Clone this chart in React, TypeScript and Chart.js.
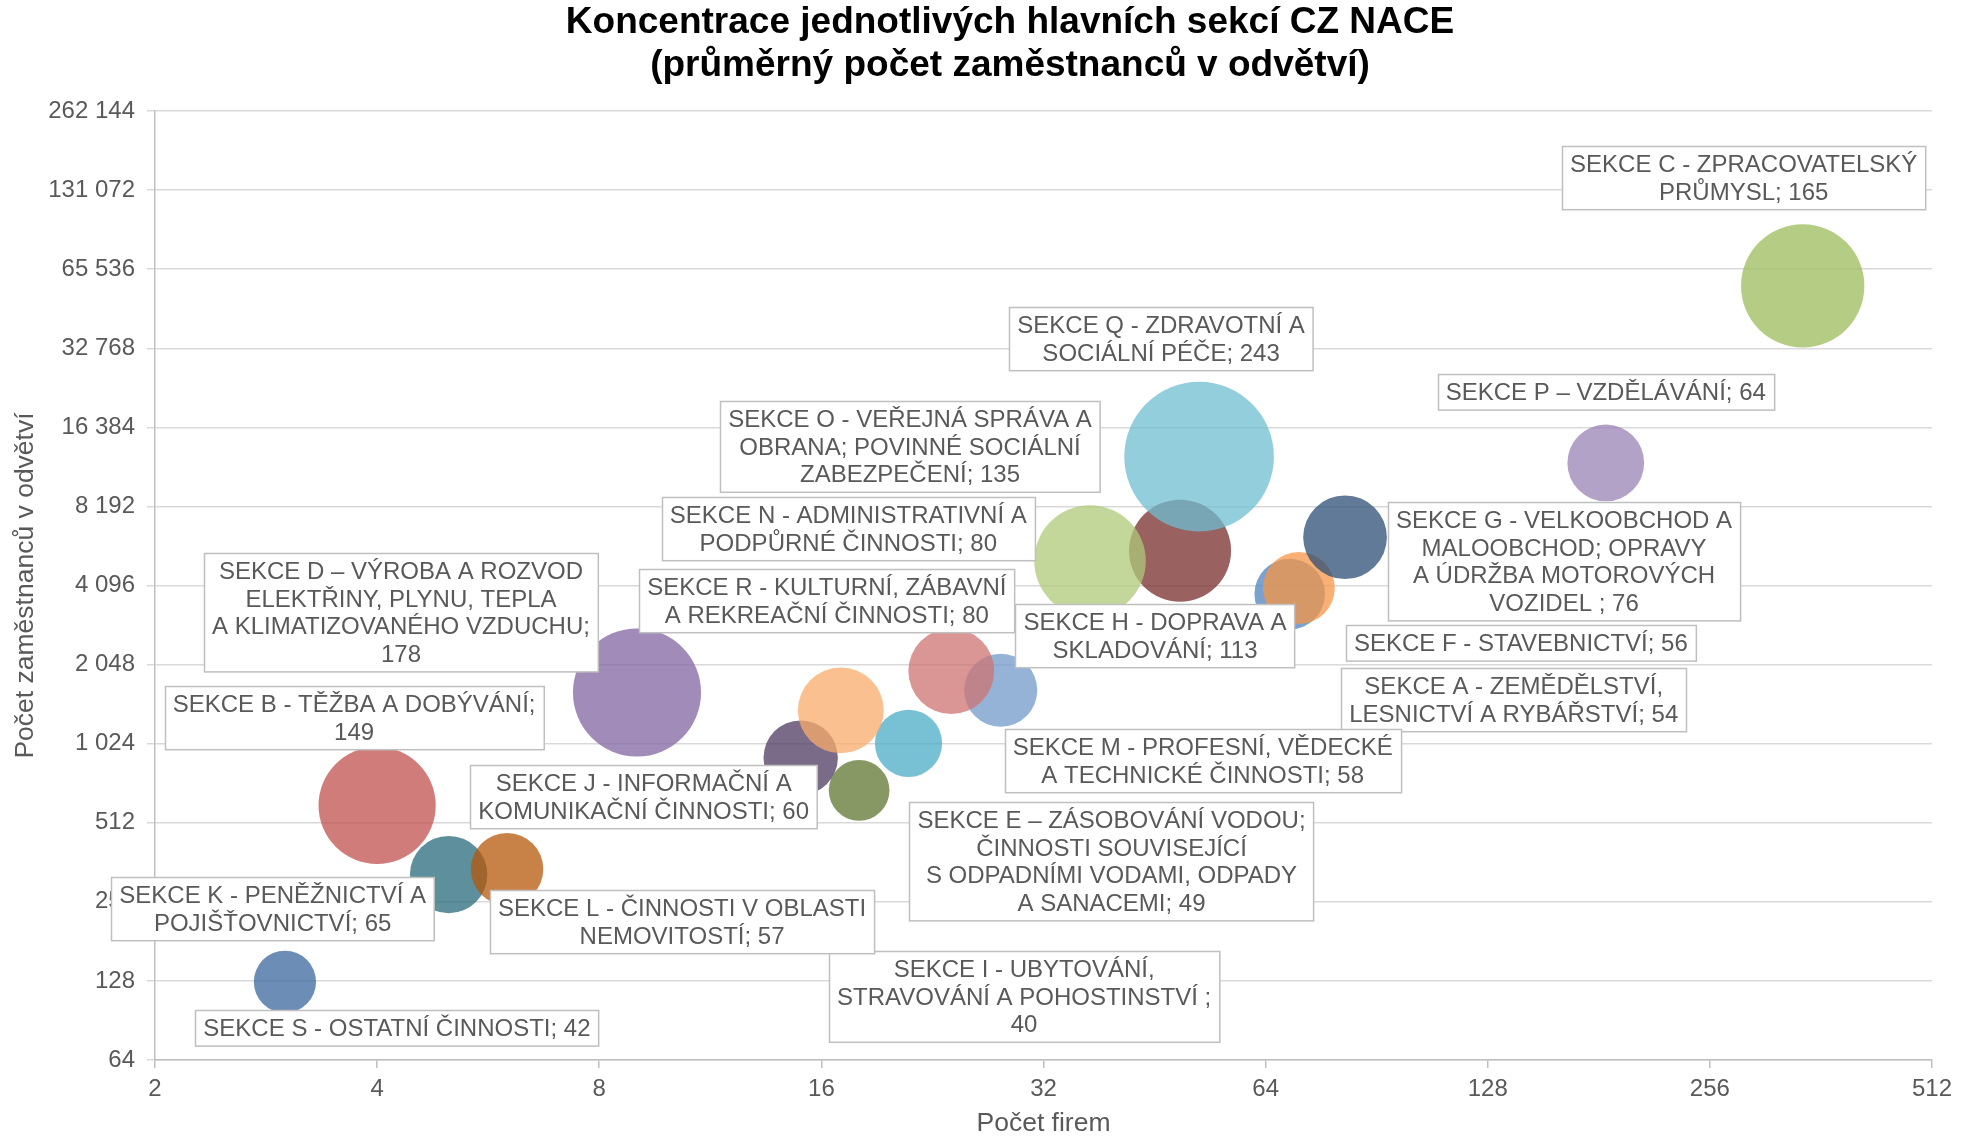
import React, { useEffect, useRef } from "react";
import { Chart, registerables } from "chart.js";

Chart.register(...registerables);

// ---------- DATA ----------
const sectionCodes = ["A", "B", "C", "D", "E", "F", "G", "H", "I", "J", "K", "L", "M", "N", "O", "P", "Q", "R", "S"];
// Počet firem (x)
const firmCounts = [69, 4, 342, 9, 21, 71, 82, 49, 18, 15, 5, 6, 28, 24, 37, 185, 52, 17, 3];
// Počet zaměstnanců v odvětví (y)
const employeeCounts = [3800, 596, 56600, 1603, 1027, 4007, 6252, 5557, 680, 906, 325, 341, 1636, 1935, 5077, 11990, 12670, 1371, 127];
// Průměrný počet zaměstnanců (bubble size)
const avgEmployees = [54, 149, 165, 178, 49, 56, 76, 113, 40, 60, 65, 57, 58, 80, 135, 64, 243, 80, 42];

const labelLines: string[][] = [
  ["SEKCE A - ZEMĚDĚLSTVÍ,", "LESNICTVÍ A RYBÁŘSTVÍ; 54"],
  ["SEKCE B - TĚŽBA A DOBÝVÁNÍ;", "149"],
  ["SEKCE C - ZPRACOVATELSKÝ", "PRŮMYSL; 165"],
  ["SEKCE D – VÝROBA A ROZVOD", "ELEKTŘINY, PLYNU, TEPLA", "A KLIMATIZOVANÉHO VZDUCHU;", "178"],
  ["SEKCE E – ZÁSOBOVÁNÍ VODOU;", "ČINNOSTI SOUVISEJÍCÍ", "S ODPADNÍMI VODAMI, ODPADY", "A SANACEMI; 49"],
  ["SEKCE F - STAVEBNICTVÍ; 56"],
  ["SEKCE G - VELKOOBCHOD A", "MALOOBCHOD; OPRAVY", "A ÚDRŽBA MOTOROVÝCH", "VOZIDEL ; 76"],
  ["SEKCE H - DOPRAVA A", "SKLADOVÁNÍ; 113"],
  ["SEKCE I - UBYTOVÁNÍ,", "STRAVOVÁNÍ A POHOSTINSTVÍ ;", "40"],
  ["SEKCE J - INFORMAČNÍ A", "KOMUNIKAČNÍ ČINNOSTI; 60"],
  ["SEKCE K - PENĚŽNICTVÍ A", "POJIŠŤOVNICTVÍ; 65"],
  ["SEKCE L - ČINNOSTI V OBLASTI", "NEMOVITOSTÍ; 57"],
  ["SEKCE M - PROFESNÍ, VĚDECKÉ", "A TECHNICKÉ ČINNOSTI; 58"],
  ["SEKCE N - ADMINISTRATIVNÍ A", "PODPŮRNÉ ČINNOSTI; 80"],
  ["SEKCE O - VEŘEJNÁ SPRÁVA A", "OBRANA; POVINNÉ SOCIÁLNÍ", "ZABEZPEČENÍ; 135"],
  ["SEKCE P – VZDĚLÁVÁNÍ; 64"],
  ["SEKCE Q - ZDRAVOTNÍ A", "SOCIÁLNÍ PÉČE; 243"],
  ["SEKCE R - KULTURNÍ, ZÁBAVNÍ", "A REKREAČNÍ ČINNOSTI; 80"],
  ["SEKCE S - OSTATNÍ ČINNOSTI; 42"],
];

const xTicks = [2, 4, 8, 16, 32, 64, 128, 256, 512];
const xTickLabels = ["2", "4", "8", "16", "32", "64", "128", "256", "512"];
const yTicks = [64, 128, 256, 512, 1024, 2048, 4096, 8192, 16384, 32768, 65536, 131072, 262144];
const yTickLabels = ["64", "128", "256", "512", "1 024", "2 048", "4 096", "8 192", "16 384", "32 768", "65 536", "131 072", "262 144"];

const titleLines = ["Koncentrace jednotlivých hlavních sekcí CZ NACE", "(průměrný počet zaměstnanců v odvětví)"];
const xAxisTitle = "Počet firem";
const yAxisTitle = "Počet zaměstnanců v odvětví";

// ---------- STYLE / LAYOUT ----------
const bubbleColors = [
  "#4F81BD", "#C0504D", "#9BBB59", "#8064A2", "#4BACC6", "#F79646",
  "#2C4D75", "#772C2A", "#5F7630", "#4D3B62", "#276A7C", "#B65708",
  "#729ACA", "#CD7371", "#AFC97A", "#9983B5", "#6FBDD1", "#F9AB6B",
  "#3B679C",
];
const BUBBLE_ALPHA = 0.75;
const BUBBLE_SCALE = 4.8; // px per sqrt(size)

// label box centre offsets from bubble centre (px)
const labelOffsets: [number, number][] = [
  [224, 106], [-23, -88], [-59, -108], [-236, -80], [203, 118], [222, 55],
  [219, 24], [-25, 85], [165, 206], [-157, 39], [-176, 34], [175, 52],
  [202, 70], [-103, -142], [-180, -115], [0, -71], [-38, -118], [-14, -110],
  [112, 46],
];

const FONT = '"Liberation Sans", Arial, sans-serif';
const W = 1977;
const H = 1137;

function hexToRgba(hex: string, a: number) {
  const n = parseInt(hex.slice(1), 16);
  return `rgba(${(n >> 16) & 255}, ${(n >> 8) & 255}, ${n & 255}, ${a})`;
}

const titlePlugin = {
  id: "customTitle",
  afterDraw(chart: any) {
    const ctx = chart.ctx;
    ctx.save();
    ctx.font = `bold 37px ${FONT}`;
    ctx.fillStyle = "#000000";
    ctx.textAlign = "center";
    ctx.textBaseline = "middle";
    ctx.fillText(titleLines[0], 1010, 23);
    ctx.fillText(titleLines[1], 1010, 66);
    ctx.restore();
  },
};

const LINE_H = 27.6;
const labelPlugin = {
  id: "boxLabels",
  afterDatasetsDraw(chart: any) {
    const ctx = chart.ctx;
    const meta = chart.getDatasetMeta(0);
    ctx.save();
    ctx.font = `24px ${FONT}`;
    meta.data.forEach((el: any, i: number) => {
      const lines = labelLines[i];
      const [dx, dy] = labelOffsets[i];
      const cx = el.x + dx;
      const cy = el.y + dy;
      const w = Math.max(...lines.map((l) => ctx.measureText(l).width)) + 16;
      const h = lines.length * LINE_H + 8;
      const x0 = Math.round(cx - w / 2) + 0.5;
      const y0 = Math.round(cy - h / 2) + 0.5;
      ctx.fillStyle = "#ffffff";
      ctx.fillRect(x0, y0, w, h);
      ctx.strokeStyle = "#bfbfbf";
      ctx.lineWidth = 1.5;
      ctx.strokeRect(x0, y0, w, h);
      ctx.fillStyle = "#595959";
      ctx.textAlign = "center";
      ctx.textBaseline = "middle";
      lines.forEach((l, j) => {
        ctx.fillText(l, cx, y0 + 4 + LINE_H * (j + 0.5) + 1);
      });
    });
    ctx.restore();
  },
};

export default function App() {
  const canvasRef = useRef<HTMLCanvasElement | null>(null);

  useEffect(() => {
    document.body.style.margin = "0";
    document.body.style.overflow = "hidden";
    const canvas = canvasRef.current;
    if (!canvas) return;

    Chart.defaults.font.family = FONT;

    const chart = new Chart(canvas, {
      type: "bubble",
      data: {
        datasets: [
          {
            label: "Sekce CZ NACE",
            data: firmCounts.map((x, i) => ({
              x,
              y: employeeCounts[i],
              r: BUBBLE_SCALE * Math.sqrt(avgEmployees[i]),
            })),
            backgroundColor: bubbleColors.map((c) => hexToRgba(c, BUBBLE_ALPHA)),
            borderWidth: 0,
            hoverRadius: 0,
          } as any,
        ],
      },
      options: {
        responsive: false,
        animation: false,
        devicePixelRatio: 1,
        layout: { autoPadding: false, padding: { top: 111, right: 45, bottom: 0, left: 0 } },
        plugins: {
          legend: { display: false },
          tooltip: { enabled: false },
          title: { display: false },
        },
        scales: {
          x: {
            type: "logarithmic",
            min: 2,
            max: 512,
            afterBuildTicks: (scale: any) => {
              scale.ticks = xTicks.map((v) => ({ value: v }));
            },
            afterFit: (scale: any) => {
              scale.height = 77;
              scale.paddingLeft = 0;
              scale.paddingRight = 0;
            },
            ticks: {
              autoSkip: false,
              maxRotation: 0,
              padding: 7,
              color: "#595959",
              font: { size: 24, family: FONT },
              callback: (_v: any, i: number) => xTickLabels[i],
            },
            grid: {
              drawOnChartArea: false,
              drawTicks: true,
              tickLength: 8,
              color: "#bfbfbf",
              lineWidth: 1.5,
            },
            border: { display: true, color: "#bfbfbf", width: 1.5 },
            title: {
              display: true,
              text: xAxisTitle,
              color: "#595959",
              font: { size: 26.5, family: FONT, lineHeight: 1 },
              padding: { top: 0, bottom: 0 },
            },
          },
          y: {
            type: "logarithmic",
            min: 64,
            max: 262144,
            afterBuildTicks: (scale: any) => {
              scale.ticks = yTicks.map((v) => ({ value: v }));
            },
            afterFit: (scale: any) => {
              scale.width = 155;
            },
            ticks: {
              autoSkip: false,
              padding: 12,
              color: "#595959",
              font: { size: 24, family: FONT },
              callback: (_v: any, i: number) => yTickLabels[i],
            },
            grid: {
              drawOnChartArea: true,
              drawTicks: true,
              tickLength: 8,
              color: "#d9d9d9",
              lineWidth: 1.5,
            },
            border: { display: true, color: "#bfbfbf", width: 1.5 },
            title: {
              display: true,
              text: yAxisTitle,
              color: "#595959",
              font: { size: 26.5, family: FONT, lineHeight: 1 },
              padding: { top: 12, bottom: 0 },
            },
          },
        },
      } as any,
      plugins: [labelPlugin, titlePlugin],
    });

    return () => {
      chart.destroy();
    };
  }, []);

  return (
    <div style={{ width: W, height: H, overflow: "hidden" }}>
      <canvas ref={canvasRef} width={W} height={H} style={{ display: "block" }} />
    </div>
  );
}
